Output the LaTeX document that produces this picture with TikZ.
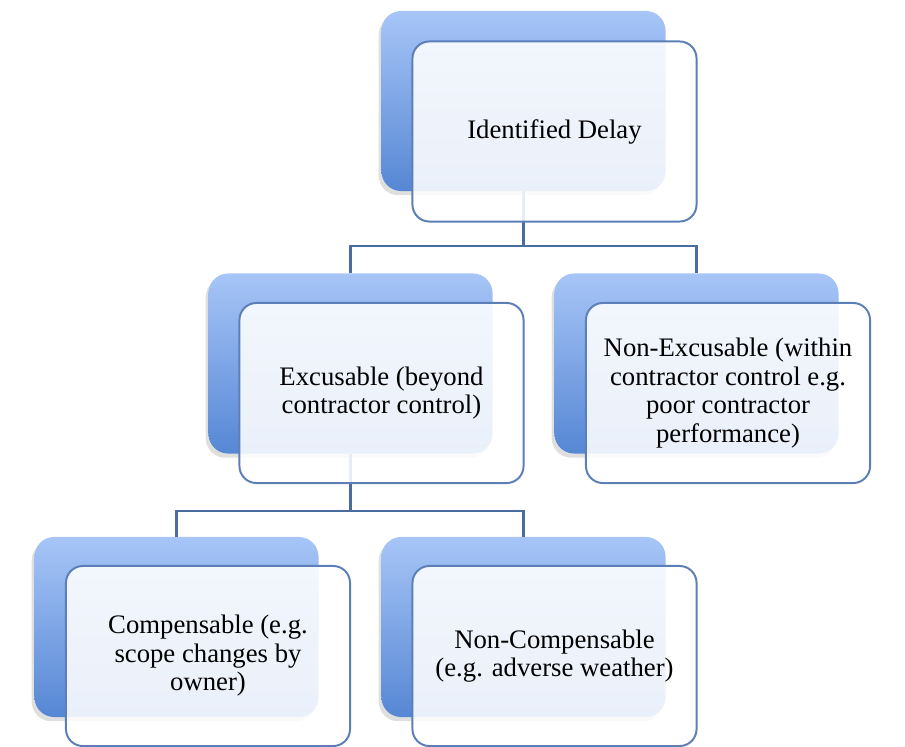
\documentclass[tikz,border=0pt]{standalone}
\usepackage{fontspec}
\setmainfont{Liberation Serif}
\usetikzlibrary{shadows}

\definecolor{backtop}{RGB}{167,197,247}
\definecolor{backbot}{RGB}{86,135,212}
\definecolor{edgeblue}{RGB}{92,127,184}
\definecolor{linkblue}{RGB}{74,108,160}

\begin{document}
\begin{tikzpicture}[x=0.025cm,y=-0.025cm,
		backbox/.style={rectangle, rounded corners=14pt, minimum width=7.1cm,
			minimum height=4.5cm, top color=backtop, bottom color=backbot,
			drop shadow={shadow xshift=-2pt, shadow yshift=-3pt, opacity=0.25}},
		frontbox/.style={rectangle, rounded corners=12pt, minimum width=7.1cm,
			minimum height=4.5cm, draw=edgeblue, line width=1.4pt, fill=white,
			fill opacity=0.88, text opacity=1, align=center,
			font=\fontsize{19}{20.3}\selectfont},
		link/.style={draw=linkblue, line width=1.7pt}]
		\useasboundingbox (0,0) rectangle (905,747);
		% back layer
		\node[backbox] (delayb) at (523.5,101) {};
		\node[backbox] (excb) at (350.5,363.5) {};
		\node[backbox] (nexcb) at (696.5,363.5) {};
		\node[backbox] (compb) at (176.5,627) {};
		\node[backbox] (ncompb) at (523.5,627) {};
		% connectors
		\draw[link] (delayb.south) -- ++(0,55) -| (excb.north);
		\draw[link] (delayb.south) -- ++(0,55) -| (nexcb.north);
		\draw[link] (excb.south) -- ++(0,57) -| (compb.north);
		\draw[link] (excb.south) -- ++(0,57) -| (ncompb.north);
		% front layer
		\node[frontbox] (delay) at (554.5,131.5) {Identified Delay};
		\node[frontbox] (exc) at (381.5,393) {Excusable (beyond\\contractor control)};
		\node[frontbox] (nexc) at (728,393) {Non-Excusable (within\\contractor control e.g.\\poor contractor\\performance)};
		\node[frontbox] (comp) at (208,656) {Compensable (e.g.\\scope changes by\\owner)};
		\node[frontbox] (ncomp) at (554.5,656) {Non-Compensable\\(e.g. adverse weather)};
	\end{tikzpicture}
\end{document}
